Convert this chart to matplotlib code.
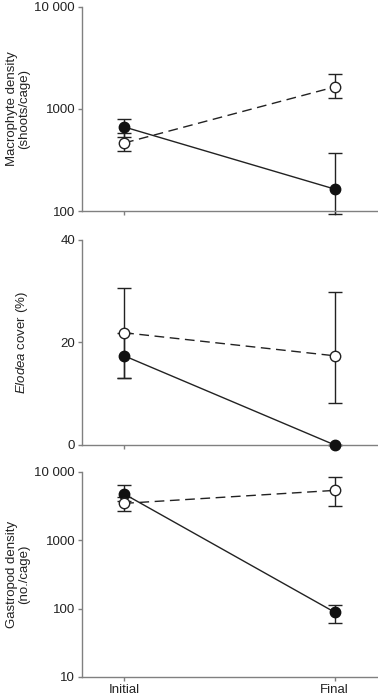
import numpy as np
import matplotlib
matplotlib.use("Agg")
import matplotlib.pyplot as plt

plt.rcParams['font.family'] = ['Liberation Sans', 'DejaVu Sans']
plt.rcParams['mathtext.fontset'] = 'custom'
plt.rcParams['mathtext.it'] = 'Liberation Sans:italic'
plt.rcParams['mathtext.rm'] = 'Liberation Sans'

times = ["Initial", "Final"]

# panel 1: macrophyte density (shoots/cage)
macro_filled = [667, 164]
macro_filled_lo = [130, 70]
macro_filled_hi = [131, 206]
macro_open = [464, 1645]
macro_open_lo = [77, 363]
macro_open_hi = [118, 555]

# panel 2: Elodea cover (%)
elodea_filled = [17.4, 0.0]
elodea_filled_lo = [4.4, 0.0]
elodea_filled_hi = [4.4, 0.0]
elodea_open = [21.9, 17.4]
elodea_open_lo = [8.9, 9.3]
elodea_open_hi = [8.8, 12.5]

# panel 3: gastropod density (no./cage)
gastro_filled = [4770, 88.6]
gastro_filled_lo = [1000, 26.6]
gastro_filled_hi = [1600, 26.4]
gastro_open = [3475, 5380]
gastro_open_lo = [820, 2240]
gastro_open_hi = [900, 3070]

panels = [
    dict(filled=(macro_filled, macro_filled_lo, macro_filled_hi),
         opened=(macro_open, macro_open_lo, macro_open_hi),
         log=True, ylim=(100, 10000), ticks=[100, 1000, 10000],
         ticklabels=["100", "1000", "10 000"],
         ylabel="Macrophyte density\n(shoots/cage)"),
    dict(filled=(elodea_filled, elodea_filled_lo, elodea_filled_hi),
         opened=(elodea_open, elodea_open_lo, elodea_open_hi),
         log=False, ylim=(0, 40), ticks=[0, 20, 40],
         ticklabels=["0", "20", "40"],
         ylabel=r"$\it{Elodea}$ cover (%)"),
    dict(filled=(gastro_filled, gastro_filled_lo, gastro_filled_hi),
         opened=(gastro_open, gastro_open_lo, gastro_open_hi),
         log=True, ylim=(10, 10000), ticks=[10, 100, 1000, 10000],
         ticklabels=["10", "100", "1000", "10 000"],
         ylabel="Gastropod density\n(no./cage)"),
]

fig = plt.figure(figsize=(3.78, 6.98), dpi=100)
boxes = [(0.217, 0.6977, 0.78, 0.2923),
         (0.217, 0.3625, 0.78, 0.2937),
         (0.217, 0.0301, 0.78, 0.2937)]

spine_col = '#808080'
x = np.arange(len(times))

for i, (p, box) in enumerate(zip(panels, boxes)):
    ax = fig.add_axes(box)
    if p['log']:
        ax.set_yscale('log')

    # open symbols, dashed line
    y, lo, hi = p['opened']
    ax.errorbar(x, y, yerr=[lo, hi], fmt='none', ecolor='#222222',
                elinewidth=1.0, capsize=5, capthick=1.0, clip_on=False, zorder=2)
    ax.plot(x, y, color='#222222', lw=1.0, dashes=(7, 4), zorder=2)
    ax.plot(x, y, 'o', ms=7.5, mfc='white', mec='#222222', mew=1.0,
            clip_on=False, zorder=4)

    # filled symbols, solid line
    y, lo, hi = p['filled']
    ax.errorbar(x, y, yerr=[lo, hi], fmt='none', ecolor='#222222',
                elinewidth=1.0, capsize=5, capthick=1.0, clip_on=False, zorder=2)
    ax.plot(x, y, color='#222222', lw=1.0, zorder=2)
    ax.plot(x, y, 'o', ms=7.5, mfc='#111111', mec='#111111', mew=1.0,
            clip_on=False, zorder=3)

    ax.set_xlim(-0.2, 1.2)
    ax.set_ylim(*p['ylim'])
    ax.yaxis.set_minor_locator(matplotlib.ticker.NullLocator())
    ax.set_yticks(p['ticks'])
    ax.set_yticklabels(p['ticklabels'])
    ax.set_xticks(x)
    if i == 2:
        ax.set_xticklabels(times)
    else:
        ax.set_xticklabels([])

    for s in ['top', 'right']:
        ax.spines[s].set_visible(False)
    for s in ['left', 'bottom']:
        ax.spines[s].set_color(spine_col)
        ax.spines[s].set_linewidth(1.0)
    ax.tick_params(axis='both', direction='out', length=3, width=1.0,
                   color=spine_col, labelsize=9.5, labelcolor='#222222', pad=2)
    ax.set_ylabel(p['ylabel'], fontsize=9.5, color='#222222', linespacing=1.05)
    ax.yaxis.set_label_coords(-0.176, 0.5)

fig.savefig("out.png", dpi=100)
